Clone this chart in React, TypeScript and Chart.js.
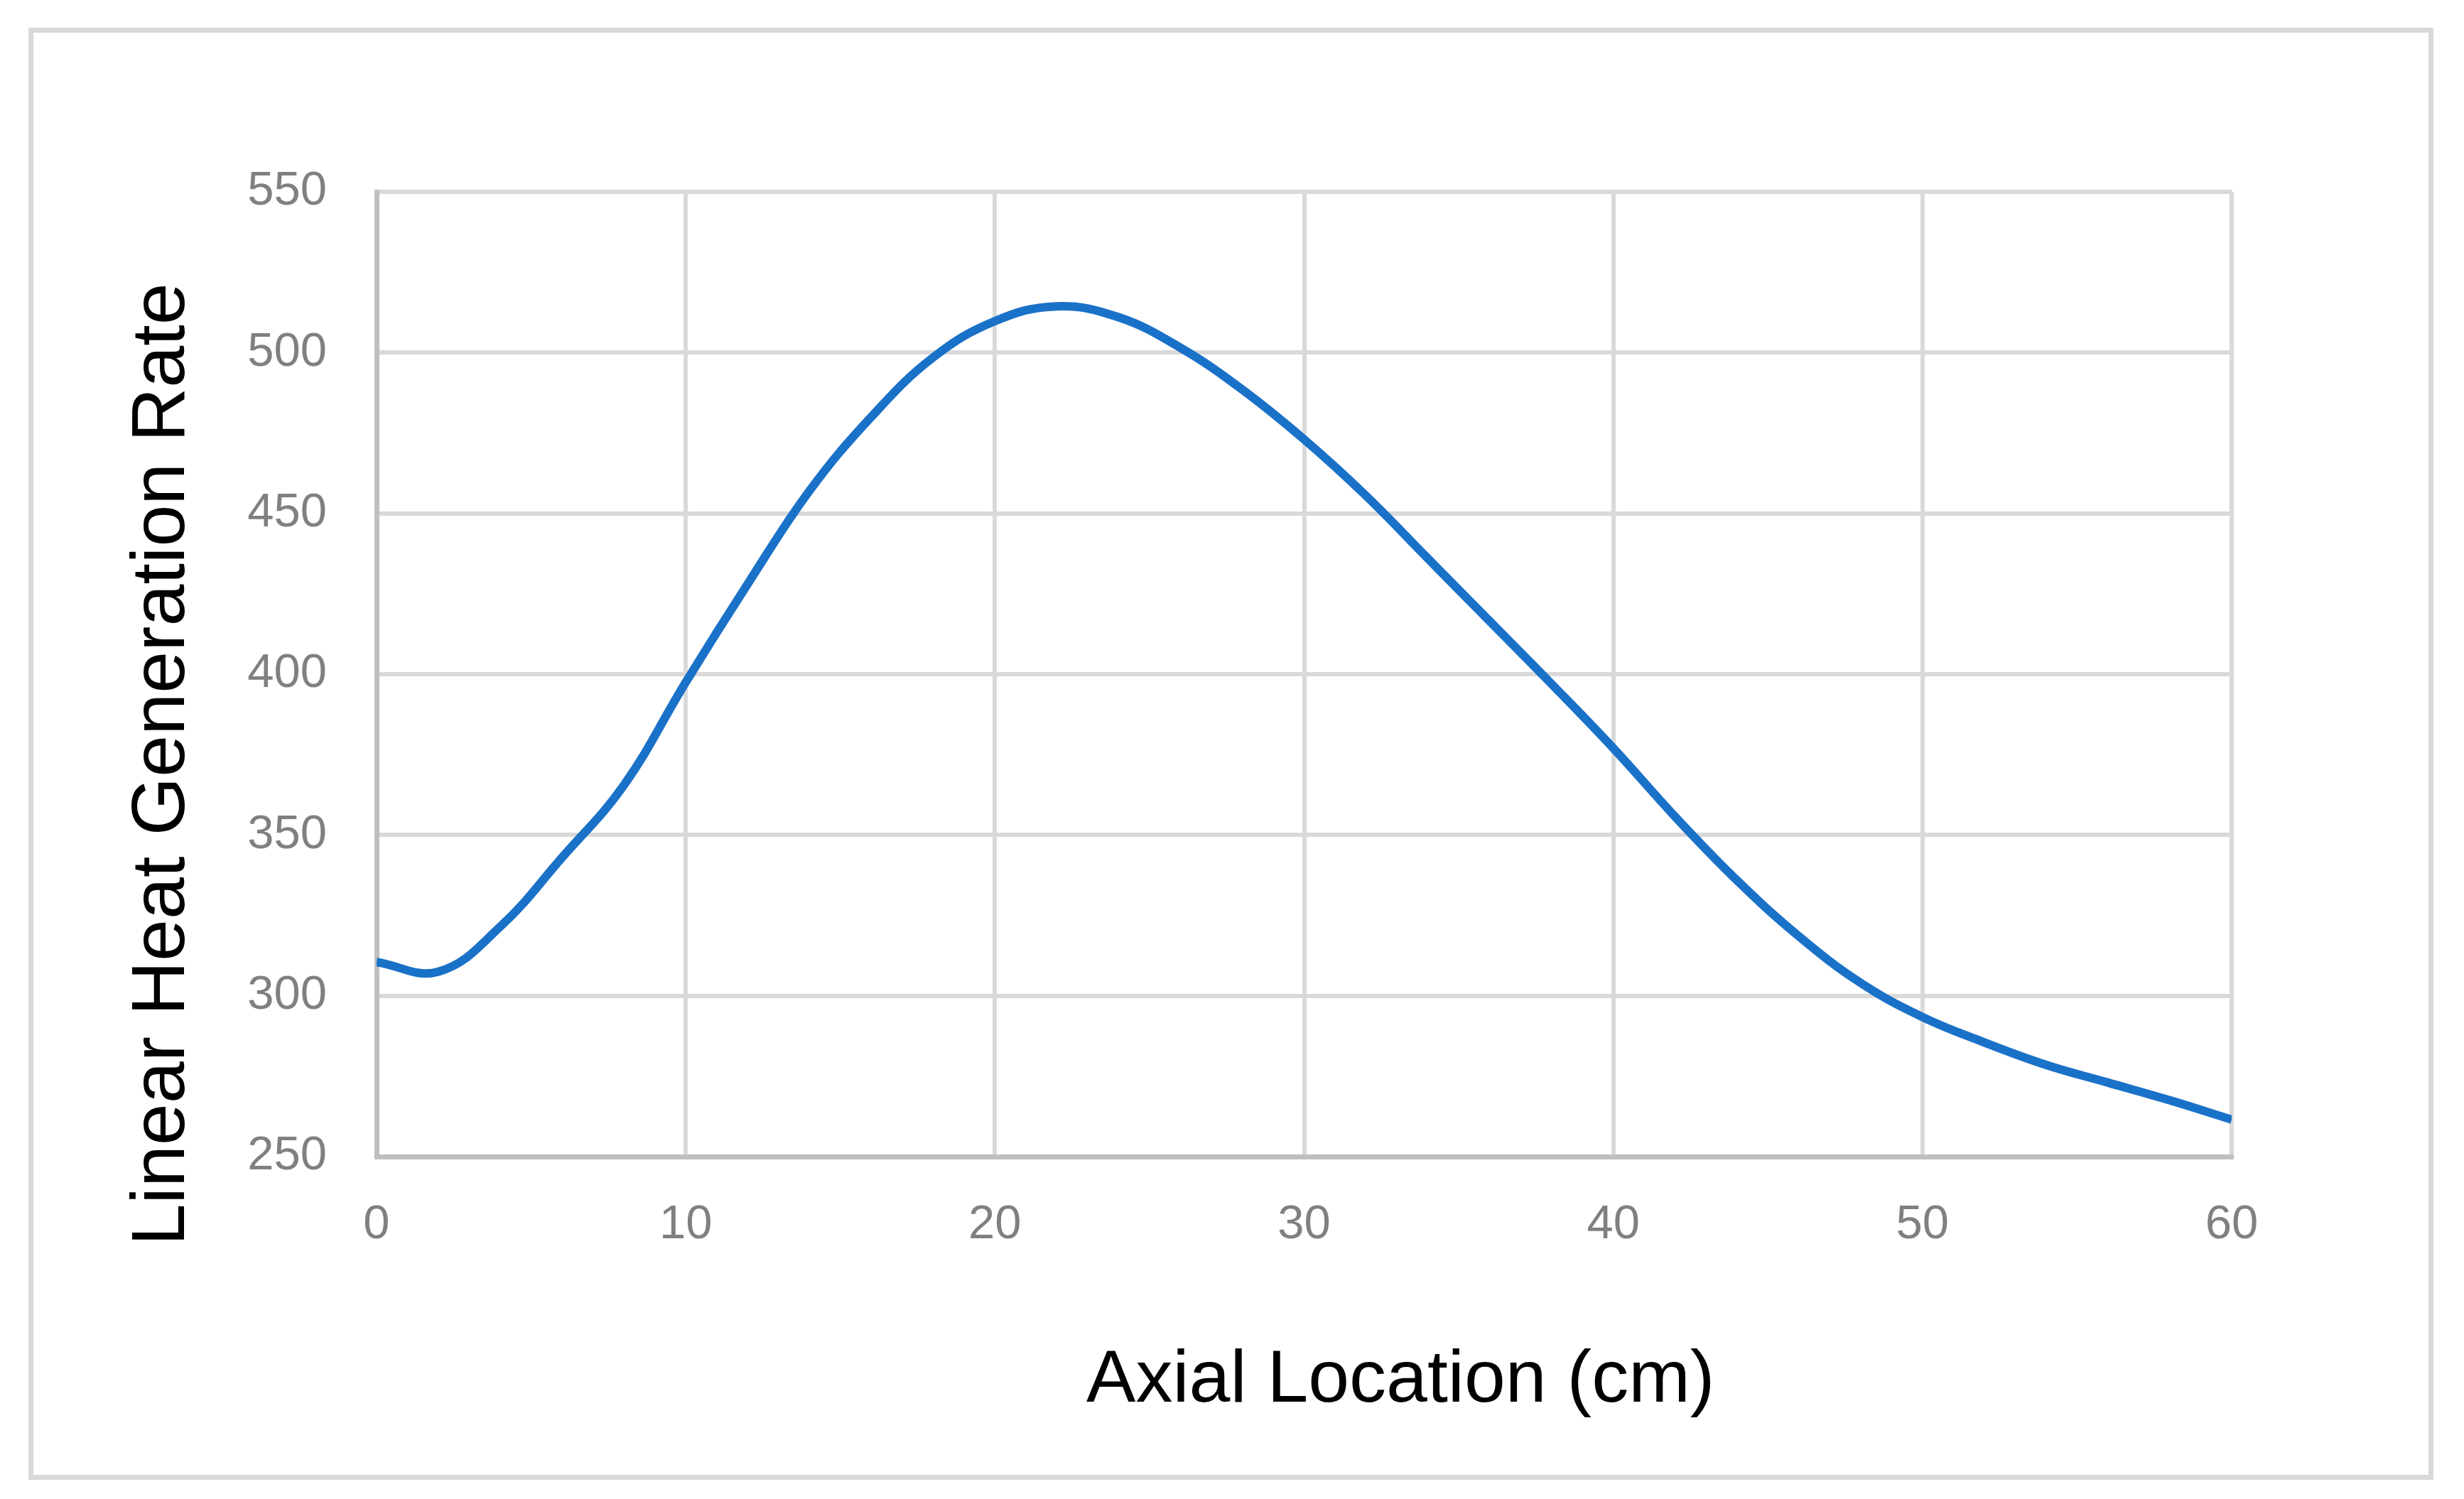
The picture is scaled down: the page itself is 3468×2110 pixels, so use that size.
import React, { useRef, useEffect } from "react";
import Chart from "chart.js/auto";

const axialCm = [
  0, 2, 4, 6, 8, 10, 12, 14, 16, 18, 20, 22, 24, 26, 28, 30, 32, 34, 36, 38,
  40, 42, 44, 46, 48, 50, 52, 54, 56, 58, 60,
];
const heatRate = [
  310.5, 307.5, 321.5, 343, 365.5, 397.5, 428, 457, 480, 498.5, 509.8, 514.4,
  511, 501.5, 488.5, 473, 455.5, 436, 416.5, 397, 377, 355.7, 335.9, 318.5,
  304, 293.4, 285.5, 278.5, 273, 267.5, 261.5,
];
const xTitle = "Axial Location (cm)";
const yTitle = "Linear Heat Generation Rate";

const W = 3468;
const H = 2110;
const FONT = "'Liberation Sans', Arial, sans-serif";

const framePlugin = {
  id: "frame",
  beforeDraw(chart: any) {
    const { ctx } = chart;
    ctx.save();
    ctx.fillStyle = "#ffffff";
    ctx.fillRect(0, 0, W, H);
    ctx.strokeStyle = "#d9d9d9";
    ctx.lineWidth = 7;
    ctx.strokeRect(43.5, 42.5, 3378, 2037);
    ctx.restore();
  },
  afterDraw(chart: any) {
    const { ctx, chartArea } = chart;
    ctx.save();
    ctx.fillStyle = "#000000";
    ctx.font = `104px ${FONT}`;
    ctx.textAlign = "center";
    ctx.textBaseline = "alphabetic";
    const cx = chartArea.left + (chartArea.right - chartArea.left) * 0.552;
    ctx.fillText(xTitle, cx, chartArea.bottom + 345);
    const cy = chartArea.top + (chartArea.bottom - chartArea.top) * 0.5935;
    ctx.translate(259, cy);
    ctx.rotate(-Math.PI / 2);
    ctx.font = `106px ${FONT}`;
    ctx.fillText(yTitle, 0, 0);
    ctx.restore();
  },
};

export default function App() {
  const chartRef = useRef<HTMLCanvasElement>(null);

  useEffect(() => {
    document.body.style.margin = "0";
    if (!chartRef.current) return;
    const chart = new Chart(chartRef.current, {
      type: "line",
      data: {
        datasets: [
          {
            data: axialCm.map((x, i) => ({ x, y: heatRate[i] })),
            borderColor: "#1a71c8",
            borderWidth: 12,
            pointRadius: 0,
            fill: false,
            tension: 0.4,
          },
        ],
      },
      options: {
        animation: false,
        responsive: false,
        devicePixelRatio: 1,
        layout: { padding: { top: 270, right: 327, left: 0, bottom: 0 } },
        plugins: {
          legend: { display: false },
          tooltip: { enabled: false },
        },
        scales: {
          x: {
            type: "linear",
            min: 0,
            max: 60,
            afterFit: (s: any) => {
              s.height = 482;
            },
            ticks: {
              stepSize: 10,
              color: "#808080",
              padding: 56,
              font: { family: FONT, size: 67 },
            },
            grid: { color: "#d9d9d9", lineWidth: 6, drawTicks: false },
            border: { color: "#bfbfbf", width: 7 },
          },
          y: {
            min: 250,
            max: 550,
            afterFit: (s: any) => {
              s.width = 530;
            },
            ticks: {
              stepSize: 50,
              color: "#808080",
              padding: 70,
              font: { family: FONT, size: 67 },
            },
            grid: { color: "#d9d9d9", lineWidth: 6, drawTicks: false },
            border: { color: "#bfbfbf", width: 7 },
          },
        },
      },
      plugins: [framePlugin],
    });
    return () => {
      chart.destroy();
    };
  }, []);

  return (
    <div style={{ width: W, height: H }}>
      <canvas ref={chartRef} width={W} height={H} style={{ display: "block" }} />
    </div>
  );
}
